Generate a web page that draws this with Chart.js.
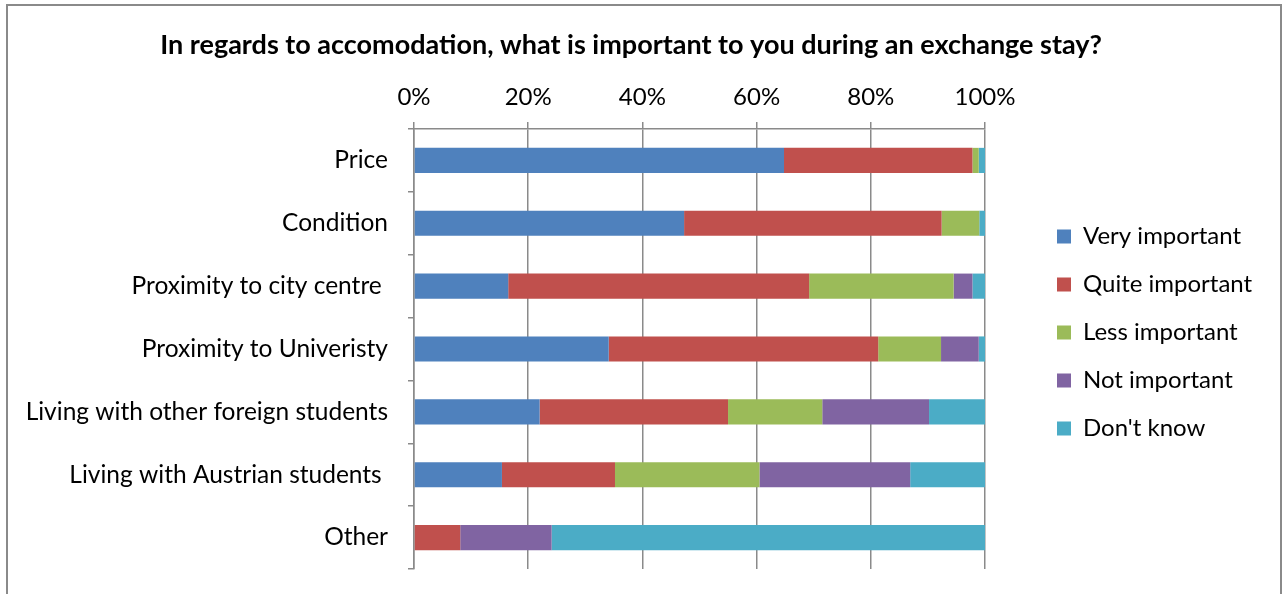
<!DOCTYPE html>
<html>
<head>
<meta charset="utf-8">
<title>Accommodation priorities</title>
<script src="https://cdn.jsdelivr.net/npm/chart.js@4.4.1/dist/chart.umd.min.js"></script>
<style>
    html, body {
        margin: 0;
        padding: 0;
        background: #fff;
        overflow: hidden;
    }
    #wrap {
        position: relative;
        width: 1284px;
        height: 594px;
    }
    #frame {
        position: absolute;
        left: 6px;
        top: 4px;
        width: 1272px;
        height: 700px;
        border: 2px solid #8a8a8a;
        pointer-events: none;
    }
    canvas {
        position: absolute;
        left: 0;
        top: 0;
    }
</style>
</head>
<body>
<div id="wrap">
    <canvas id="accomChart" width="1284" height="594"></canvas>
    <div id="frame"></div>
</div>
<script>
// Share of answers per aspect (percent of respondents)
const categories = [
    'Price',
    'Condition',
    'Proximity to city centre ',
    'Proximity to Univeristy',
    'Living with other foreign students',
    'Living with Austrian students ',
    'Other'
];
const seriesNames = ['Very important', 'Quite important', 'Less important', 'Not important', "Don't know"];
const veryImportant = [64.8, 47.3, 16.5, 34.1, 22.0, 15.4, 0];
const quiteImportant = [33.0, 45.1, 52.7, 47.2, 33.0, 19.8, 8.1];
const lessImportant = [1.1, 6.6, 25.3, 11.0, 16.5, 25.3, 0];
const notImportant = [0, 0, 3.3, 6.6, 18.7, 26.4, 16.0];
const dontKnow = [1.1, 1.1, 2.2, 1.1, 9.9, 13.2, 75.9];
const xTicks = [0, 20, 40, 60, 80, 100];

(function() {
    'use strict';

    const FONT = 'Lato';
    const LEGEND_SIZE = 24;
    const GRID = '#8a8a8a';
    const colors = ['#4F81BD', '#C0504D', '#9BBB59', '#8064A2', '#4BACC6'];
    const values = [veryImportant, quiteImportant, lessImportant, notImportant, dontKnow];

    // Plot edges in canvas pixels
    const plotRight = 985;
    const plotTop = 129;
    const legendLeft = 1033;
    const legendPad = 24;

    // Legend sits at a fixed spot right of the plot, so work out the right padding from the text width
    const probe = document.createElement('canvas').getContext('2d');
    probe.font = LEGEND_SIZE + 'px ' + FONT;
    const widest = Math.max.apply(null, seriesNames.map(n => probe.measureText(n).width));
    const legendWidth = legendPad + 14 + LEGEND_SIZE / 2 + widest + 10;
    const rightPad = Math.max(0, 1284 - legendLeft - legendWidth);

    // Title box: 27px bold, line height 1.2, centred near y=45
    const titleLine = 27 * 1.2;
    const titleTop = 45 - titleLine / 2;

    Chart.defaults.font.family = FONT;
    Chart.defaults.color = '#000';

    new Chart(document.getElementById('accomChart').getContext('2d'), {
        type: 'bar',
        data: {
            labels: categories,
            datasets: seriesNames.map((name, i) => ({
                label: name,
                data: values[i],
                backgroundColor: colors[i],
                borderWidth: 0,
                barPercentage: 0.4,
                categoryPercentage: 1.0
            }))
        },
        options: {
            indexAxis: 'y',
            responsive: false,
            animation: false,
            devicePixelRatio: 1,
            layout: {
                padding: { left: 0, top: 0, right: rightPad, bottom: 25 }
            },
            plugins: {
                title: {
                    display: true,
                    text: 'In regards to accomodation, what is important to you during an exchange stay?',
                    color: '#000',
                    font: { size: 27, weight: 'bold' },
                    padding: { top: titleTop, bottom: 0 }
                },
                legend: {
                    position: 'right',
                    align: 'start',
                    maxWidth: 400,
                    title: {
                        display: true,
                        text: '',
                        font: { size: 12 },
                        padding: { top: 186, bottom: 0 }
                    },
                    labels: {
                        boxWidth: 14,
                        boxHeight: 14,
                        padding: legendPad,
                        color: '#000',
                        font: { size: LEGEND_SIZE }
                    }
                },
                tooltip: { enabled: false }
            },
            scales: {
                x: {
                    position: 'top',
                    stacked: true,
                    min: 0,
                    max: 100,
                    afterBuildTicks: scale => {
                        scale.ticks = xTicks.map(v => ({ value: v }));
                    },
                    afterFit: scale => {
                        scale.height = plotTop - titleTop - titleLine;
                    },
                    ticks: {
                        callback: v => v + '%',
                        padding: 10,
                        maxRotation: 0,
                        font: { size: 24 }
                    },
                    grid: {
                        color: GRID,
                        lineWidth: 1.5,
                        tickLength: 7
                    },
                    border: { color: GRID, width: 1.5 }
                },
                y: {
                    stacked: true,
                    afterFit: scale => {
                        scale.width = 414;
                        scale.paddingTop = 0;
                        scale.paddingBottom = 0;
                    },
                    ticks: {
                        padding: 20,
                        font: { size: 24.5 }
                    },
                    grid: {
                        offset: true,
                        drawOnChartArea: false,
                        color: GRID,
                        lineWidth: 1.5,
                        tickLength: 6
                    },
                    border: { color: GRID, width: 1.5 }
                },
                // blank gutter between the plot and the legend
                gutter: {
                    type: 'category',
                    position: 'right',
                    afterFit: scale => {
                        scale.width = legendLeft - plotRight;
                    },
                    ticks: { display: false },
                    grid: { display: false },
                    border: { display: false }
                }
            }
        }
    });
})();
</script>
</body>
</html>
